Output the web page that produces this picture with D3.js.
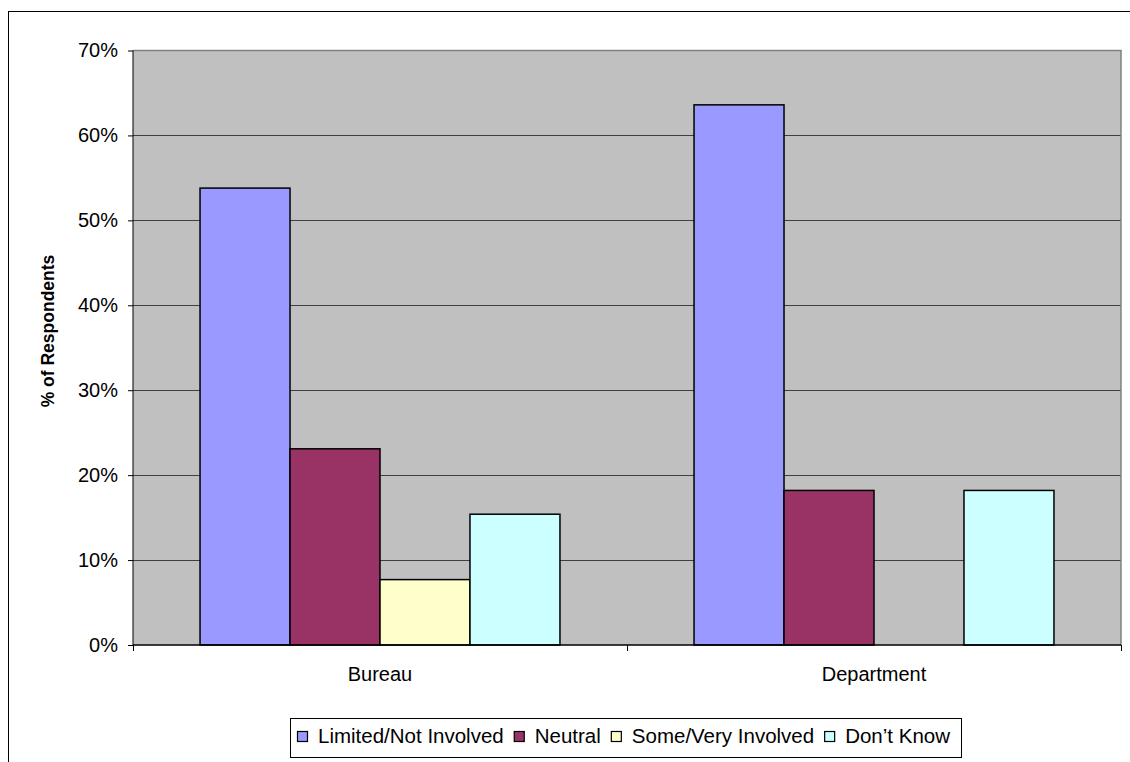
<!DOCTYPE html>
<html>
<head>
<meta charset="utf-8">
<script src="https://cdn.jsdelivr.net/npm/d3@7"></script>
<style>
  html, body { margin: 0; padding: 0; background: #ffffff; }
  svg { display: block; font-family: "Liberation Sans", Arial, sans-serif; }
</style>
</head>
<body>
<svg id="chart" width="1130" height="762"></svg>
<script>
// ---- data ----
const categories = ["Bureau", "Department"];
const seriesNames = ["Limited/Not Involved", "Neutral", "Some/Very Involved", "Don\u2019t Know"];
const limitedNotInvolved = [53.8, 63.6];
const neutral = [23.1, 18.2];
const someVeryInvolved = [7.7, 0];
const dontKnow = [15.4, 18.2];
const yTicks = [0, 10, 20, 30, 40, 50, 60, 70];
const yTitle = "% of Respondents";

const seriesValues = [limitedNotInvolved, neutral, someVeryInvolved, dontKnow];
const colors = ["#9999FF", "#993366", "#FFFFCC", "#CCFFFF"];

const svg = d3.select("#chart");

// outer chart border
svg.append("rect")
  .attr("x", 8.5).attr("y", 11.5)
  .attr("width", 1130).attr("height", 800)
  .attr("fill", "#fff").attr("stroke", "#000").attr("stroke-width", 1);

const plot = { left: 133, right: 1121, top: 50.5, bottom: 645 };

const x0 = d3.scaleBand().domain(categories).range([plot.left, plot.right]).paddingInner(0).paddingOuter(0);
const x1 = d3.scaleBand().domain(seriesNames).range([0, x0.bandwidth()]).paddingInner(0).paddingOuter(0.745);
const y = d3.scaleLinear().domain([0, 70]).range([plot.bottom, plot.top]);

// plot area background
svg.append("rect")
  .attr("x", plot.left).attr("y", plot.top)
  .attr("width", plot.right - plot.left).attr("height", plot.bottom - plot.top)
  .attr("fill", "#C0C0C0");

// gridlines
svg.append("g").selectAll("line").data(yTicks.filter(d => d > 0 && d < 70)).join("line")
  .attr("x1", plot.left).attr("x2", plot.right)
  .attr("y1", d => Math.round(y(d)) + 0.5).attr("y2", d => Math.round(y(d)) + 0.5)
  .attr("stroke", "#404040").attr("stroke-width", 1);

// plot area border (top/right gray)
svg.append("path")
  .attr("d", `M${plot.left},${plot.top}H${plot.right}V${plot.bottom}`)
  .attr("fill", "none").attr("stroke", "#808080").attr("stroke-width", 1.5);

// bars
const rows = categories.map((c, i) => ({ cat: c, vals: seriesNames.map((s, j) => ({ s, j, v: seriesValues[j][i] })) }));
const g = svg.append("g").selectAll("g").data(rows).join("g")
  .attr("transform", d => `translate(${x0(d.cat)},0)`);
g.selectAll("rect").data(d => d.vals.filter(v => v.v > 0)).join("rect")
  .attr("x", d => x1(d.s))
  .attr("width", x1.bandwidth())
  .attr("y", d => y(d.v))
  .attr("height", d => y(0) - y(d.v))
  .attr("fill", d => colors[d.j])
  .attr("stroke", "#000").attr("stroke-width", 1.5);

// y axis
const yAxis = d3.axisLeft(y).tickValues(yTicks).tickFormat(d => d + "%").tickSize(5).tickPadding(10);
const ya = svg.append("g").attr("transform", `translate(${plot.left},0)`).call(yAxis);
ya.select(".domain").attr("stroke", "#000").attr("d", `M0,${plot.top}V${plot.bottom}`);
ya.selectAll(".tick line").attr("stroke", "#000");
ya.selectAll(".tick text").attr("font-size", 20).attr("fill", "#000")
  .attr("font-family", "Liberation Sans, Arial, sans-serif");

// x axis
const xa = svg.append("g").attr("transform", `translate(0,${plot.bottom})`);
xa.append("line").attr("x1", plot.left).attr("x2", plot.right).attr("y1", 0).attr("y2", 0)
  .attr("stroke", "#000").attr("stroke-width", 1.5);
const tickXs = categories.map(c => x0(c)).concat([x0(categories[categories.length - 1]) + x0.bandwidth()]);
xa.selectAll("line.tk").data(tickXs).join("line").attr("class", "tk")
  .attr("x1", d => Math.round(d) + 0.5).attr("x2", d => Math.round(d) + 0.5)
  .attr("y1", 0).attr("y2", 6).attr("stroke", "#000");
xa.selectAll("text").data(categories).join("text")
  .attr("x", d => x0(d) + x0.bandwidth() / 2)
  .attr("y", 36)
  .attr("text-anchor", "middle")
  .attr("font-size", 20).attr("fill", "#000")
  .text(d => d);

// y title
svg.append("text")
  .attr("transform", "translate(54,331) rotate(-90)")
  .attr("text-anchor", "middle")
  .attr("font-size", 17.5).attr("font-weight", "bold").attr("fill", "#000")
  .text(yTitle);

// legend
const legend = svg.append("g");
legend.append("rect")
  .attr("x", 290.5).attr("y", 718.5).attr("width", 671).attr("height", 39)
  .attr("fill", "#fff").attr("stroke", "#000").attr("stroke-width", 1);
let lx = 297;
seriesNames.forEach((s, i) => {
  legend.append("rect")
    .attr("x", lx + 0.5).attr("y", 731.5).attr("width", 10).attr("height", 10)
    .attr("fill", colors[i]).attr("stroke", "#000").attr("stroke-width", 1.2);
  const t = legend.append("text")
    .attr("x", lx + 21).attr("y", 743)
    .attr("font-size", 20.5).attr("fill", "#000")
    .text(s);
  lx = lx + 21 + t.node().getComputedTextLength() + 10;
});
</script>
</body>
</html>
